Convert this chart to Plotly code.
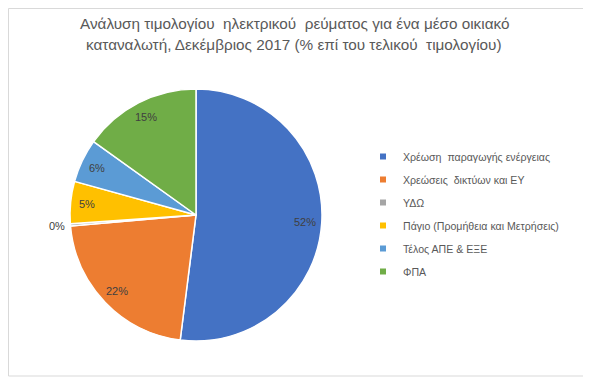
import math
import plotly.graph_objects as go

W0, H0 = 591, 382
OFF = 8  # default page body margin
W, H = W0 - OFF, H0 - OFF

labels = [
    "Χρέωση  παραγωγής ενέργειας",
    "Χρεώσεις  δικτύων και ΕΥ",
    "ΥΔΩ",
    "Πάγιο (Προμήθεια και Μετρήσεις)",
    "Τέλος ΑΠΕ & ΕΞΕ",
    "ΦΠΑ",
]
values = [52.0, 21.6, 0.3, 5.4, 5.6, 15.1]
colors = ["#4472C4", "#ED7D31", "#A5A5A5", "#FFC000", "#5B9BD5", "#70AD47"]
title_lines = [
    "Ανάλυση τιμολογίου  ηλεκτρικού  ρεύματος για ένα μέσο οικιακό",
    "καταναλωτή, Δεκέμβριος 2017 (% επί του τελικού  τιμολογίου)",
]

FONT = "Liberation Sans"
TXT = "#595959"


def fx(px):
    return (px - OFF) / W


def fy(py):
    return 1 - (py - OFF) / H


# pie domain in window pixels
px0, px1, py0, py1 = 70, 322, 89, 341
dom_x = [fx(px0), fx(px1)]
dom_y = [fy(py1), fy(py0)]

fig = go.Figure()
fig.add_trace(go.Pie(
    labels=labels, values=values, sort=False, direction="clockwise", rotation=0,
    marker=dict(colors=colors, line=dict(color="white", width=1.5)),
    textinfo="none", hoverinfo="label+percent", showlegend=False,
    domain=dict(x=dom_x, y=dom_y),
))

# legend entries
for lab, col in zip(labels, colors):
    fig.add_trace(go.Scatter(
        x=[None], y=[None], mode="markers", name=lab, legendgroup=lab,
        marker=dict(symbol="square", size=6, color=col),
    ))

# data labels computed from the values
cx = (px0 + px1) / 2
cy = (py0 + py1) / 2
R = (px1 - px0) / 2
total = sum(values)
cum = 0.0
annotations = []
for v in values:
    mid = (cum + v / 2) / total * 2 * math.pi
    cum += v
    pct = v / total * 100
    rf = 0.87 if pct >= 1 else 1.11
    x = cx + rf * R * math.sin(mid)
    y = cy - rf * R * math.cos(mid)
    annotations.append(dict(
        x=fx(x), y=fy(y), xref="paper", yref="paper",
        text=f"{round(pct)}%", showarrow=False,
        font=dict(family=FONT, size=11, color="#404040"),
        xanchor="center", yanchor="middle",
    ))

# title lines
for line, ty in zip(title_lines, [23, 45]):
    annotations.append(dict(
        x=fx(294), y=fy(ty), xref="paper", yref="paper", text=line,
        showarrow=False, xanchor="center", yanchor="middle",
        font=dict(family=FONT, size=15.3, color=TXT),
    ))

fig.update_layout(
    width=W, height=H,
    margin=dict(l=0, r=0, t=0, b=0),
    paper_bgcolor="white", plot_bgcolor="white",
    xaxis=dict(visible=False), yaxis=dict(visible=False),
    legend=dict(
        x=fx(363), y=fy(142), xanchor="left", yanchor="top",
        font=dict(family=FONT, size=10.6, color=TXT),
        tracegroupgap=4, bgcolor="rgba(0,0,0,0)",
    ),
    annotations=annotations,
    shapes=[dict(type="rect", xref="paper", yref="paper",
                 x0=0.5 / W, x1=fx(586), y0=fy(376), y1=1 - 0.5 / H,
                 line=dict(color="#D9D9D9", width=1))],
)

fig.write_html("out.html")
